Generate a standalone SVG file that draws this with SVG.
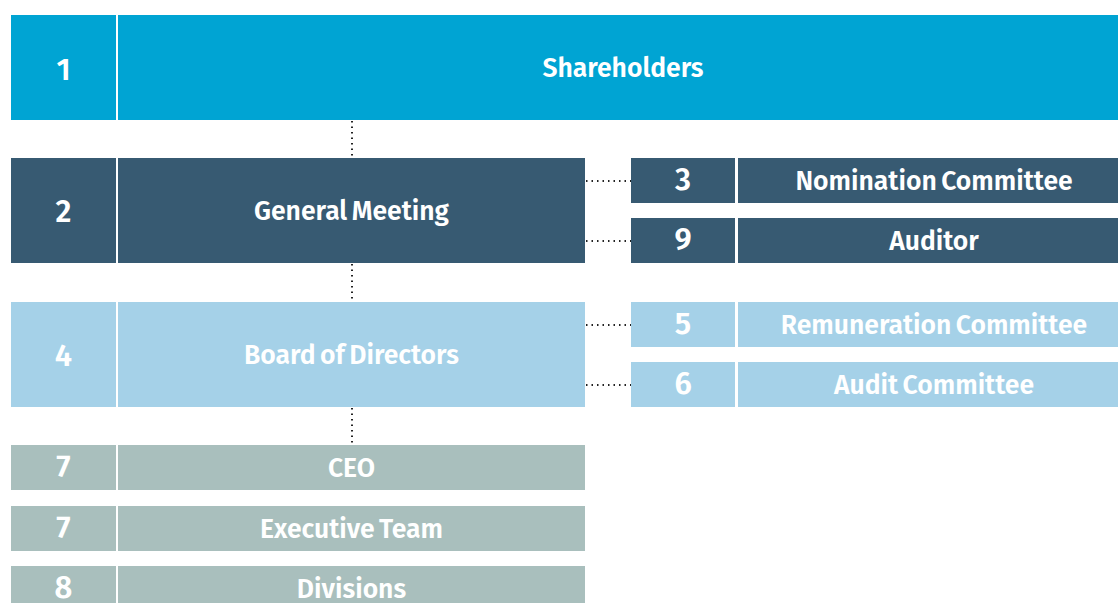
<svg xmlns="http://www.w3.org/2000/svg" width="1118" height="603" viewBox="0 0 1118 603">
<style>
.num{font-family:"Fira Sans","Open Sans","Noto Sans",sans-serif;font-weight:600;font-size:31px;fill:#fff;text-anchor:middle;dominant-baseline:central}
.lbl{font-family:"Fira Sans","Open Sans","Noto Sans",sans-serif;font-weight:600;font-size:26.5px;fill:#fff;text-anchor:middle;dominant-baseline:central;word-spacing:-2px}
.c1{fill:#00a4d3}.c2{fill:#375a72}.c3{fill:#a5d1e8}.c4{fill:#a9bfbd}
.dot{stroke:#222;stroke-width:2;stroke-dasharray:1.5 4;fill:none}
</style>
<rect width="1118" height="603" fill="#fff"/>
<g id="connectors">
<line class="dot" x1="352" y1="121" x2="352" y2="158"/>
<line class="dot" x1="352" y1="264" x2="352" y2="302"/>
<line class="dot" x1="352" y1="408" x2="352" y2="445"/>
<line class="dot" x1="586" y1="181" x2="631" y2="181"/>
<line class="dot" x1="586" y1="241" x2="631" y2="241"/>
<line class="dot" x1="586" y1="325" x2="631" y2="325"/>
<line class="dot" x1="586" y1="385" x2="631" y2="385"/>
</g>
<g id="shareholders"><rect class="c1" x="11" y="15" width="105" height="105"/><rect class="c1" x="118" y="15" width="1010" height="105"/><text class="num" x="63.5" y="69">1</text><text class="lbl" x="623" y="68">Shareholders</text></g>
<g id="general-meeting"><rect class="c2" x="11" y="158" width="105" height="105"/><rect class="c2" x="118" y="158" width="467" height="105"/><text class="num" x="63.5" y="211">2</text><text class="lbl" x="351.5" y="211">General Meeting</text></g>
<g id="nomination-committee"><rect class="c2" x="631" y="158" width="104" height="45"/><rect class="c2" x="738" y="158" width="392" height="45"/><text class="num" x="683" y="179">3</text><text class="lbl" x="934" y="181">Nomination Committee</text></g>
<g id="auditor"><rect class="c2" x="631" y="218" width="104" height="45"/><rect class="c2" x="738" y="218" width="392" height="45"/><text class="num" x="683" y="239">9</text><text class="lbl" x="934" y="241">Auditor</text></g>
<g id="board"><rect class="c3" x="11" y="302" width="105" height="105"/><rect class="c3" x="118" y="302" width="467" height="105"/><text class="num" x="63.5" y="355">4</text><text class="lbl" x="351.5" y="355">Board of Directors</text></g>
<g id="remuneration-committee"><rect class="c3" x="631" y="302" width="104" height="45"/><rect class="c3" x="738" y="302" width="392" height="45"/><text class="num" x="683" y="323">5</text><text class="lbl" x="934" y="325">Remuneration Committee</text></g>
<g id="audit-committee"><rect class="c3" x="631" y="362" width="104" height="45"/><rect class="c3" x="738" y="362" width="392" height="45"/><text class="num" x="683" y="383">6</text><text class="lbl" x="934" y="385">Audit Committee</text></g>
<g id="ceo"><rect class="c4" x="11" y="445" width="105" height="45"/><rect class="c4" x="118" y="445" width="467" height="45"/><text class="num" x="63.5" y="466">7</text><text class="lbl" x="351.5" y="468">CEO</text></g>
<g id="executive-team"><rect class="c4" x="11" y="506" width="105" height="45"/><rect class="c4" x="118" y="506" width="467" height="45"/><text class="num" x="63.5" y="527">7</text><text class="lbl" x="351.5" y="529">Executive Team</text></g>
<g id="divisions"><rect class="c4" x="11" y="566" width="105" height="45"/><rect class="c4" x="118" y="566" width="467" height="45"/><text class="num" x="63.5" y="587">8</text><text class="lbl" x="351.5" y="589">Divisions</text></g>
</svg>
